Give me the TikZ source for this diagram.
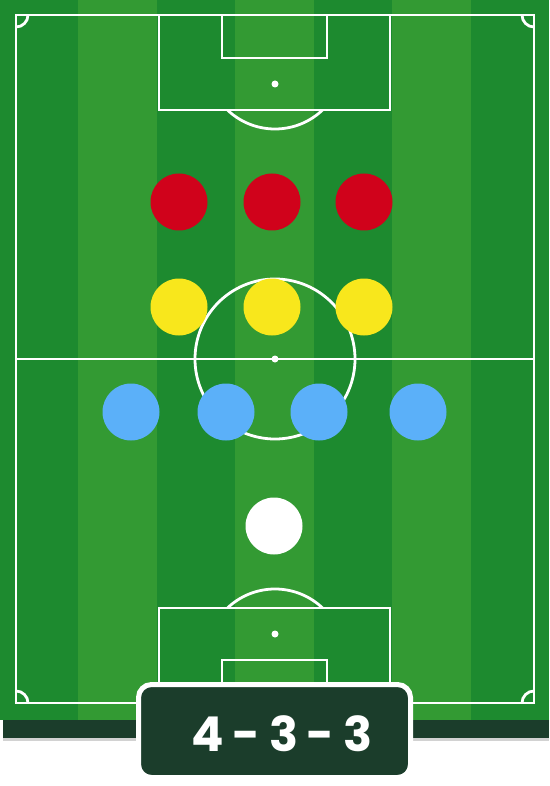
\documentclass[tikz,border=0pt]{standalone}
\usepackage{fontspec}
\newfontfamily\scorefont{Poppins}[LetterSpace=18.0]
\definecolor{turfdark}{HTML}{1D8A2F}
\definecolor{turflight}{HTML}{339A33}
\definecolor{boardgreen}{HTML}{1B3D2B}
\definecolor{kitred}{HTML}{D0021B}
\definecolor{kityellow}{HTML}{F8E71C}
\definecolor{kitblue}{HTML}{5BB0F9}
\begin{document}
\begin{tikzpicture}[x=1pt, y=-1pt,
    pitchline/.style={draw=white, line width=2.8pt},
    spot/.style={circle, fill=white, inner sep=0pt, minimum size=7pt},
    player/.style={circle, inner sep=0pt, minimum size=57pt},
    board/.style={rectangle, rounded corners=13pt, draw=white, line width=5pt,
                  fill=boardgreen, minimum width=272pt, minimum height=93pt},
    score/.style={text=white, inner sep=0pt,
                  font=\scorefont\bfseries\fontsize{48}{48}\selectfont}
]
    \useasboundingbox (0,0) rectangle (549,786);

    % turf and shadow
    \fill[gray!35] (3,737) rectangle (549,741);
    \fill[boardgreen] (3,720) rectangle (549,738);
    \fill[turfdark] (0,0) rectangle (549,720);
    \foreach \i in {1,3,5}
        \fill[turflight] ({\i*78.43},0) rectangle ({(\i+1)*78.43},720);

    % markings
    \draw[pitchline] (16,15) rectangle (534,703);
    \draw[pitchline] (16,359) -- (534,359);
    \draw[pitchline] (275,359) circle[radius=80];
    \draw[pitchline] (159,15) rectangle (390,110);
    \draw[pitchline] (222,15) rectangle (327,58);
    \draw[pitchline] (159,608) rectangle (390,703);
    \draw[pitchline] (222,660) rectangle (327,703);
    \begin{scope}
        \clip (0,110) rectangle (549,200);
        \draw[pitchline] (275,60) circle[radius=69];
    \end{scope}
    \begin{scope}
        \clip (0,520) rectangle (549,608);
        \draw[pitchline] (275,658) circle[radius=69];
    \end{scope}
    \draw[pitchline] (28,15) arc[start angle=0, end angle=90, radius=12];
    \draw[pitchline] (522,15) arc[start angle=180, end angle=90, radius=12];
    \draw[pitchline] (28,703) arc[start angle=0, end angle=-90, radius=12];
    \draw[pitchline] (522,703) arc[start angle=180, end angle=270, radius=12];

    \node[spot] (kickoff) at (275,359) {};
    \node[spot] (pentop)  at (275,84)  {};
    \node[spot] (penbot)  at (275,634) {};

    % forwards
    \node[player, fill=kitred] (fwL) at (179,202) {};
    \node[player, fill=kitred] (fwC) at (272,202) {};
    \node[player, fill=kitred] (fwR) at (364,202) {};
    % midfield
    \node[player, fill=kityellow] (mfL) at (179,307) {};
    \node[player, fill=kityellow] (mfC) at (272,307) {};
    \node[player, fill=kityellow] (mfR) at (364,307) {};
    % defence
    \node[player, fill=kitblue] (dfLB) at (131,412) {};
    \node[player, fill=kitblue] (dfLC) at (226,412) {};
    \node[player, fill=kitblue] (dfRC) at (319,412) {};
    \node[player, fill=kitblue] (dfRB) at (418,412) {};
    % keeper
    \node[player, fill=white] (gk) at (274,526) {};

    \node[board] (formation) at (274.5,731) {};
    \node[score] (scoreline) at (282,733.5) {4-3-3};
\end{tikzpicture}
\end{document}
